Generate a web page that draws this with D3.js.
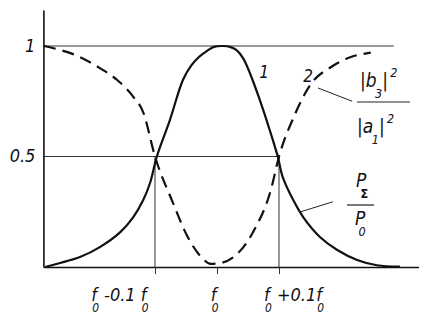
<!DOCTYPE html>
<html><head><meta charset="utf-8">
<script src="https://cdn.jsdelivr.net/npm/d3@7"></script>
<style>
html,body{margin:0;padding:0;background:#fff;}
text{font-family:"Liberation Sans Narrow","DejaVu Sans Condensed","DejaVu Sans",sans-serif;font-style:italic;fill:#111;}
</style></head>
<body><svg id="c" width="422" height="327"></svg>
<script>
// detuning in units of 0.1*f0 relative to f0
const curve1X = [-2.77,-2.53,-2.21,-1.89,-1.56,-1.35,-1.19,-1.08,-0.97,-0.76,-0.55,-0.42,-0.3,-0.16,-0.05,0.1,0.22,0.32,0.42,0.53,0.69,0.85,0.98,1.06,1.23,1.39,1.66,1.94,2.26,2.58,2.95];
const curve1Y = [0,0.018,0.045,0.090,0.158,0.226,0.303,0.380,0.5,0.665,0.846,0.91,0.948,0.978,0.996,1.0,0.995,0.98,0.945,0.878,0.756,0.62,0.5,0.407,0.303,0.226,0.136,0.077,0.032,0.008,0.002];
const curve2X = [-2.79,-2.21,-1.89,-1.61,-1.35,-1.19,-1.0,-0.71,-0.48,-0.27,-0.1,0.06,0.34,0.6,0.87,1.0,1.24,1.52,1.84,2.16,2.48];
const curve2Y = [1.0,0.95,0.90,0.846,0.77,0.70,0.5,0.29,0.14,0.05,0.014,0.018,0.063,0.167,0.35,0.5,0.68,0.83,0.905,0.95,0.97];
const xTickValues = [-1, 0, 1];
const xTickLabels = [
  [["f",""],["0","sub"],[" -0.1 ",""],["f",""],["0","sub"]],
  [["f",""],["0","sub"]],
  [["f",""],["0","sub"],[" +0.1",""],["f",""],["0","sub"]]
];
const yTickValues = [1, 0.5];
const yTickLabels = ["1", "0.5"];
const refLevels = [1, 0.5];
const refLevelEnds = [2.85, 1];

const svg = d3.select("#c");
const x = d3.scaleLinear().domain([-2.8, 3.25]).range([43.4, 418.5]);
const y = d3.scaleLinear().domain([0, 1]).range([267, 46]);

// reference horizontal lines
refLevels.forEach((lv,i)=>{
  svg.append("line").attr("x1",x(-2.8)).attr("x2",x(refLevelEnds[i]))
    .attr("y1",y(lv)).attr("y2",y(lv)).attr("stroke","#333").attr("stroke-width",1);
});
// vertical guide lines at ±0.1 f0
[-1,1].forEach(v=>{
  svg.append("line").attr("x1",x(v)).attr("x2",x(v)).attr("y1",y(0.5)).attr("y2",y(0))
    .attr("stroke","#333").attr("stroke-width",1);
});

// x axis
const xAxis = d3.axisBottom(x).tickValues(xTickValues).tickSize(7).tickFormat("").tickSizeOuter(0);
const gx = svg.append("g").attr("transform",`translate(0,${y(0)})`).call(xAxis);
gx.select(".domain").attr("stroke","#111").attr("stroke-width",1.6);
gx.selectAll(".tick line").attr("stroke","#333").attr("stroke-width",1);

// y axis
const yTop = d3.scaleLinear().domain([0,1.16]).range([267, 10]);
const yAxis = d3.axisLeft(yTop).tickValues(yTickValues).tickSize(0).tickPadding(8)
  .tickFormat((d,i)=>yTickLabels[i]).tickSizeOuter(0);
const gy = svg.append("g").attr("transform",`translate(${x(-2.8)},0)`).call(yAxis);
gy.select(".domain").attr("stroke","#111").attr("stroke-width",1.6);
gy.selectAll(".tick text").attr("font-size",18).attr("font-family",null);
gy.selectAll(".tick").attr("transform",d=>`translate(0,${y(d)})`);

// curves
const line = d3.line().x(d=>x(d[0])).y(d=>y(Math.min(1,Math.max(0,d[1])))).curve(d3.curveMonotoneX);
const line1 = d3.line().x(d=>x(d[0])).y(d=>y(d[1])).curve(d3.curveCatmullRom.alpha(0.5));
svg.append("path").datum(curve1X.map((v,i)=>[v,curve1Y[i]])).attr("d",line1)
  .attr("fill","none").attr("stroke","#111").attr("stroke-width",2.2);
svg.append("path").datum(curve2X.map((v,i)=>[v,curve2Y[i]])).attr("d",line)
  .attr("fill","none").attr("stroke","#111").attr("stroke-width",2.2).attr("stroke-dasharray","12,7");

// rich text helper: segs = [text, kind, dxFactor]
function rich(g, segs, size, subDx){
  const t = g.append("text").attr("font-size",size);
  let prev = null;
  segs.forEach(([s,kind,dxf])=>{
    const ts = t.append("tspan").text(s);
    if(kind==="sub"){ ts.attr("font-size",size*0.66).attr("dy",size*0.6).attr("dx",(dxf!==undefined?dxf:subDx)*size); }
    else if(kind==="sup"){ ts.attr("font-size",size*0.66).attr("dy",-size*0.55).attr("dx",size*0.12); }
    else if(prev==="sub"){ ts.attr("dy",-size*0.6); }
    else if(prev==="sup"){ ts.attr("dy",size*0.55); }
    prev = kind;
  });
  return t;
}

// x tick labels
const xLabelAnchor = ["end","middle","start"];
const xLabelShift = [3, 0, -15];
xTickValues.forEach((v,i)=>{
  const t = rich(svg, xTickLabels[i], 18, -0.26).attr("y",301);
  const w = t.node().getComputedTextLength();
  const base = x(v) + xLabelShift[i];
  t.attr("x", xLabelAnchor[i]==="end" ? base - w : xLabelAnchor[i]==="middle" ? base - w/2 : base);
});

// curve number labels
svg.append("text").attr("x",x(0.68)).attr("y",y(0.855)).attr("font-size",17).text("1");
svg.append("text").attr("x",x(1.39)).attr("y",y(0.836)).attr("font-size",17).text("2");

// leader lines (data units)
const leaders = [[[1.63,0.81],[2.18,0.75]], [[1.35,0.25],[1.87,0.295]]];
leaders.forEach(l=>{
  svg.append("line").attr("x1",x(l[0][0])).attr("y1",y(l[0][1])).attr("x2",x(l[1][0])).attr("y2",y(l[1][1]))
    .attr("stroke","#222").attr("stroke-width",1);
});

// |b3|^2 / |a1|^2
rich(svg, [["|b",""],["3","sub"],["|",""],["2","sup"]], 19, -0.08).attr("x",360).attr("y",87);
svg.append("line").attr("x1",357).attr("x2",410).attr("y1",102).attr("y2",102).attr("stroke","#222").attr("stroke-width",1.2);
rich(svg, [["|a",""],["1","sub"],["|",""],["2","sup"]], 19, -0.08).attr("x",357).attr("y",133);

// P_Σ / P_0
const pn = rich(svg, [["P",""],["Σ","sub"]], 19, -0.3).attr("x",356).attr("y",187);
pn.select("tspan:nth-child(2)").attr("font-weight","bold").style("font-style","normal");
svg.append("line").attr("x1",347).attr("x2",374).attr("y1",205).attr("y2",205).attr("stroke","#222").attr("stroke-width",1.2);
rich(svg, [["P",""],["0","sub"]], 19, -0.36).attr("x",355).attr("y",225);
</script></body></html>
